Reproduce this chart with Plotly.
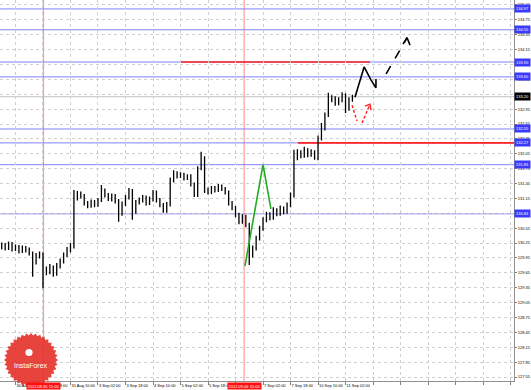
import numpy as np
import plotly.graph_objects as go

# ---------------- data (H2 bars, x = trading hours from 29 Aug 17:00) ----------------
bar_hours = list(range(1, 206, 2))
bar_open = [130.17,130.21,130.15,130.23,130.13,130.17,130.09,130.15,130.11,130.05,
            129.87,129.99,130.03,129.71,129.67,129.77,129.63,129.79,129.89,130.01,
            130.11,130.19,131.16,131.26,131.20,131.06,131.00,131.08,131.02,131.12,
            131.32,131.22,131.14,131.20,131.10,130.84,131.04,131.18,131.32,130.88,
            131.08,131.12,131.18,131.06,131.14,131.28,131.12,131.02,130.90,131.04,
            131.52,131.66,131.60,131.64,131.56,131.60,131.44,131.22,131.76,131.97,
            131.32,131.28,131.36,131.32,131.40,131.34,131.28,131.06,130.96,130.82,
            130.68,130.78,130.62,130.01,130.15,130.35,130.55,130.72,130.84,130.76,
            130.92,130.84,130.96,130.88,131.02,131.22,131.97,132.09,132.01,132.13,
            132.03,132.09,131.97,132.37,132.57,132.83,133.14,133.18,133.07,133.14,
            133.24,132.97,133.14]
bar_close = [130.21,130.15,130.23,130.13,130.17,130.09,130.15,130.11,130.05,129.87,
             129.99,130.03,129.71,129.67,129.77,129.63,129.79,129.89,130.01,130.11,
             130.19,131.16,131.26,131.20,131.06,131.00,131.08,131.02,131.12,131.32,
             131.22,131.14,131.20,131.10,130.84,131.04,131.18,131.32,130.88,131.08,
             131.12,131.18,131.06,131.14,131.28,131.12,131.02,130.90,131.04,131.52,
             131.66,131.60,131.64,131.56,131.60,131.44,131.22,131.76,131.97,131.32,
             131.28,131.36,131.32,131.40,131.34,131.28,131.06,130.96,130.82,130.68,
             130.78,130.62,130.01,130.15,130.35,130.55,130.72,130.84,130.76,130.92,
             130.84,130.96,130.88,131.02,131.22,131.97,132.09,132.01,132.13,132.03,
             132.09,131.97,132.37,132.57,132.83,133.14,133.18,133.07,133.14,133.24,
             132.97,133.14,133.20]
bar_high = [130.26,130.25,130.28,130.27,130.22,130.21,130.20,130.19,130.16,130.08,
            130.05,130.08,130.06,129.78,129.83,129.80,129.85,129.94,130.06,130.17,
            130.25,131.32,131.30,131.29,131.24,131.10,131.13,131.12,131.16,131.42,
            131.35,131.26,131.25,131.24,131.14,131.09,131.22,131.36,131.34,131.12,
            131.17,131.22,131.21,131.19,131.32,131.31,131.16,131.06,131.08,131.57,
            131.72,131.70,131.68,131.67,131.64,131.64,131.47,131.80,132.09,132.00,
            131.37,131.40,131.40,131.44,131.43,131.38,131.31,131.10,131.00,130.86,
            130.83,130.82,130.66,130.20,130.40,130.60,130.77,130.88,130.87,130.97,
            130.95,131.01,130.99,131.07,131.27,132.13,132.14,132.12,132.19,132.16,
            132.14,132.12,132.42,132.67,132.88,133.28,133.23,133.21,133.19,133.29,
            133.27,133.19,133.24]
bar_low = [130.12,130.10,130.11,130.08,130.09,130.04,130.05,130.06,130.00,129.57,
           129.82,129.94,129.34,129.60,129.62,129.57,129.59,129.74,129.84,129.97,
           130.06,130.14,131.11,131.15,131.01,130.95,130.96,130.97,130.98,131.08,
           131.17,131.10,131.09,131.05,130.68,130.80,131.00,131.13,130.72,130.84,
           131.03,131.07,131.01,131.02,131.09,131.07,130.97,130.86,130.86,130.99,
           131.47,131.55,131.56,131.51,131.52,131.39,131.18,131.18,131.72,131.26,
           131.23,131.24,131.27,131.28,131.30,131.23,131.01,130.91,130.77,130.63,
           130.64,130.57,129.81,129.96,130.10,130.30,130.50,130.67,130.71,130.72,
           130.79,130.80,130.83,130.84,130.97,131.17,131.92,131.96,131.97,131.98,
           131.99,131.93,131.92,132.32,132.52,132.79,133.09,133.02,133.03,133.09,
           132.87,132.92,133.10]

# price axis ticks
price_ticks = [127.55,127.85,128.15,128.45,128.75,129.05,129.35,129.65,129.95,130.25,
               130.55,130.85,131.15,131.45,131.75,132.05,132.35,132.65,132.95,133.25,
               133.55,133.85,134.15,134.45,134.75,135.05]
# time axis ticks (every 16 trading hours)
time_ticks = [9,25,41,57,73,89,105,121,137,153,169,185,201,217,233,249,265,281,297]
time_labels = ["30 Aug 02:00","30 Aug 18:00","31 Aug 10:00","3 Sep 02:00","3 Sep 18:00",
               "4 Sep 10:00","5 Sep 02:00","5 Sep 18:00","","7 Sep 02:00",
               "7 Sep 18:00","10 Sep 10:00","11 Sep 02:00","","","","","",""]
first_label_hour = -7
first_label_text = "29 Aug 10:00"

# horizontal levels
blue_levels = [134.97,134.55,133.90,133.60,132.55,132.27,131.83,130.84]
current_price = 133.20
red_top = dict(start=104.7, end=215.2, price=133.90)
red_low = dict(start=173.4, end=299, price=132.27)

# vertical event lines
event_hours = [25.3, 142.0]
event_labels = ["2012.08.30 15:00", "2012.09.06 15:00"]

# drawn wave / forecast objects
green_h = [142.5, 153.0, 157.6]
green_p = [129.79, 131.83, 130.94]
black_h = [206.5, 211.8, 215.8, 218.7, 218.7]
black_p = [133.19, 133.80, 133.54, 133.38, 133.56]
black_dash_h = [224.6, 236.8]
black_dash_p = [133.66, 134.39]
black_head_h = [234.4, 236.8, 238.5]
black_head_p = [134.26, 134.39, 134.24]
red_a_h = [204.8, 207.7]
red_a_p = [133.03, 132.71]
red_b_h = [210.6, 215.2]
red_b_p = [132.67, 133.05]
red_head_h = [212.3, 215.2, 215.8]
red_head_p = [133.01, 133.05, 132.93]

X_RANGE = [0, 299]
Y_RANGE = [127.47, 135.15]
FONT = "Liberation Sans"

fig = go.Figure()

fig.add_trace(go.Ohlc(
    x=bar_hours, open=bar_open, high=bar_high, low=bar_low, close=bar_close,
    increasing=dict(line=dict(color="black", width=1.3)),
    decreasing=dict(line=dict(color="black", width=1.3)),
    tickwidth=0.2, showlegend=False, hoverinfo="skip"))

fig.add_trace(go.Scatter(x=green_h, y=green_p, mode="lines",
                         line=dict(color="#22aa22", width=1.6), showlegend=False))
fig.add_trace(go.Scatter(x=black_h, y=black_p, mode="lines",
                         line=dict(color="black", width=1.6), showlegend=False))
fig.add_trace(go.Scatter(x=black_dash_h, y=black_dash_p, mode="lines",
                         line=dict(color="black", width=1.6, dash="dash"), showlegend=False))
fig.add_trace(go.Scatter(x=black_head_h, y=black_head_p, mode="lines",
                         line=dict(color="black", width=1.6), showlegend=False))
for hh, pp in [(red_a_h, red_a_p), (red_b_h, red_b_p)]:
    fig.add_trace(go.Scatter(x=hh, y=pp, mode="lines",
                             line=dict(color="#ff2020", width=1.4, dash="3px,2px"), showlegend=False))
fig.add_trace(go.Scatter(x=red_head_h, y=red_head_p, mode="lines",
                         line=dict(color="#ff2020", width=1.4), showlegend=False))

shapes = []
for lv in blue_levels:
    shapes.append(dict(type="line", xref="x", yref="y", x0=X_RANGE[0], x1=X_RANGE[1], y0=lv, y1=lv,
                       line=dict(color="#8080ff", width=1), layer="below"))
shapes.append(dict(type="line", xref="x", yref="y", x0=X_RANGE[0], x1=X_RANGE[1],
                   y0=current_price, y1=current_price, line=dict(color="#c0c0c0", width=1), layer="below"))
for r in (red_top, red_low):
    shapes.append(dict(type="line", xref="x", yref="y", x0=r["start"], x1=r["end"],
                       y0=r["price"], y1=r["price"], line=dict(color="#ff2020", width=1.6), layer="below"))
for eh in event_hours:
    shapes.append(dict(type="line", xref="x", yref="paper", x0=eh, x1=eh, y0=0, y1=1,
                       line=dict(color="#ff9a9a", width=1.2), layer="below"))

# InstaForex badge (decoration)
W_PLOT, H_PLOT = 514.0, 381.0
cx, cy, r_out, r_in, n = 31.0, 360.0, 27.0, 24.5, 36
ang = np.linspace(0, 2 * np.pi, 2 * n, endpoint=False)
rad = np.where(np.arange(2 * n) % 2 == 0, r_out, r_in)
pxs = cx + rad * np.cos(ang)
pys = cy + rad * np.sin(ang)
path = "M " + " L ".join(f"{px / W_PLOT:.5f},{1 - py / H_PLOT:.5f}" for px, py in zip(pxs, pys)) + " Z"
shapes.append(dict(type="path", xref="paper", yref="paper", path=path,
                   fillcolor="rgba(229,52,46,0.92)", line=dict(width=0), layer="above"))
ic_x, ic_y, ic_r = 29.0, 352.5, 3.6
shapes.append(dict(type="circle", xref="paper", yref="paper",
                   x0=(ic_x - ic_r) / W_PLOT, x1=(ic_x + ic_r) / W_PLOT,
                   y0=1 - (ic_y + ic_r) / H_PLOT, y1=1 - (ic_y - ic_r) / H_PLOT,
                   fillcolor="white", line=dict(width=0), layer="above"))

annotations = []
for lv in blue_levels:
    annotations.append(dict(xref="paper", x=1, xanchor="left", yref="y", y=lv, yanchor="middle",
                            text=f"{lv:.2f}", showarrow=False, bgcolor="#3a3aff",
                            font=dict(color="white", size=4, family=FONT),
                            borderpad=1, xshift=0))
annotations.append(dict(xref="paper", x=1, xanchor="left", yref="y", y=current_price, yanchor="middle",
                        text=f"{current_price:.2f}", showarrow=False, bgcolor="black",
                        font=dict(color="white", size=4, family=FONT), borderpad=1, xshift=0))
for eh, el in zip(event_hours, event_labels):
    annotations.append(dict(xref="x", x=eh, xanchor="center", yref="paper", y=0, yanchor="top",
                            text=el, showarrow=False, bgcolor="#ff1010", yshift=-1,
                            font=dict(color="white", size=4, family=FONT), borderpad=0.5))
annotations.append(dict(xref="x", x=first_label_hour, xanchor="left", yref="paper", y=0, yanchor="top",
                        text=first_label_text, showarrow=False, xshift=2, yshift=-1,
                        font=dict(color="black", size=4, family=FONT)))
annotations.append(dict(xref="paper", x=cx / W_PLOT, xanchor="center", yref="paper",
                        y=1 - 365 / H_PLOT, yanchor="middle", text="InstaForex", showarrow=False,
                        font=dict(color="white", size=7, family=FONT)))

fig.update_layout(
    width=531, height=390,
    margin=dict(l=0, r=17, t=0, b=9),
    paper_bgcolor="white", plot_bgcolor="white",
    showlegend=False,
    shapes=shapes, annotations=annotations,
    xaxis=dict(range=X_RANGE, tickvals=time_ticks, ticktext=time_labels, tickangle=0,
               ticklabelposition="outside right", ticks="outside", ticklen=3, tickcolor="#808080",
               tickfont=dict(size=4, family=FONT, color="black"),
               showgrid=True, gridcolor="#cfcfcf", griddash="dot", gridwidth=1,
               showline=True, linecolor="#909090", linewidth=1, zeroline=False,
               rangeslider=dict(visible=False), fixedrange=True),
    yaxis=dict(range=Y_RANGE, side="right", tickvals=price_ticks,
               ticktext=[f"{v:.2f}" for v in price_ticks],
               ticks="outside", ticklen=2, tickcolor="#808080",
               tickfont=dict(size=4, family=FONT, color="black"),
               showgrid=True, gridcolor="#cfcfcf", griddash="dot", gridwidth=1,
               showline=True, linecolor="#909090", linewidth=1, zeroline=False, fixedrange=True),
)

fig.write_html("out.html")
